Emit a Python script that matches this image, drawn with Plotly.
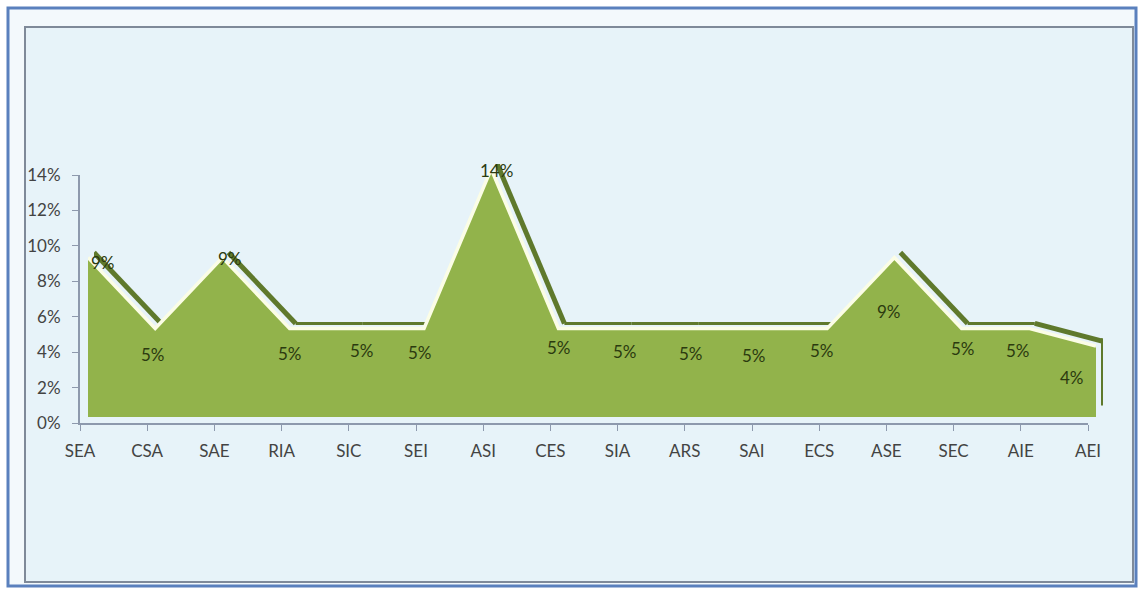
import plotly.graph_objects as go

categories = ["SEA", "CSA", "SAE", "RIA", "SIC", "SEI", "ASI", "CES",
              "SIA", "ARS", "SAI", "ECS", "ASE", "SEC", "AIE", "AEI"]
values = [0.09, 0.05, 0.09, 0.05, 0.05, 0.05, 0.14, 0.05,
          0.05, 0.05, 0.05, 0.05, 0.09, 0.05, 0.05, 0.04]
y_ticks = [0, 0.02, 0.04, 0.06, 0.08, 0.10, 0.12, 0.14]

# label placement offsets (pixels) - style only
label_dx = [23, 6, 16, 8, 13, 4, 13, 9, 7, 6, 2, 3, 3, 9, -3, -16]
label_dy = [1, -20, 5, -19, -16, -18, 4, -13, -17, -19, -21, -16, -48, -14, -16, -25]

W, H = 1142, 600
idx = list(range(len(categories)))


def xd(a, b):
    return [a / W, b / W]


def yd(top, bottom):
    return [(H - bottom) / H, (H - top) / H]


# split the outline into descending and flat segments (top faces visible)
desc_x, desc_y, flat_x, flat_y = [], [], [], []
for i in range(len(values) - 1):
    a, b = values[i], values[i + 1]
    if b < a:
        desc_x += [idx[i], idx[i + 1], None]
        desc_y += [a, b, None]
    elif b == a:
        flat_x += [idx[i], idx[i + 1], None]
        flat_y += [a, b, None]

fig = go.Figure()

shade = "#5f792c"
fig.add_trace(go.Scatter(x=flat_x, y=flat_y, mode="lines",
                         line=dict(color=shade, width=3),
                         xaxis="x2", yaxis="y2", hoverinfo="skip",
                         showlegend=False))
fig.add_trace(go.Scatter(x=desc_x, y=desc_y, mode="lines",
                         line=dict(color=shade, width=5),
                         xaxis="x2", yaxis="y2", hoverinfo="skip",
                         showlegend=False))
# right side face
fig.add_trace(go.Scatter(x=[idx[-1], idx[-1]], y=[values[-1], 0.002],
                         mode="lines", line=dict(color=shade, width=4),
                         xaxis="x4", yaxis="y4", hoverinfo="skip",
                         showlegend=False))

# front face of area
fig.add_trace(go.Scatter(
    x=idx, y=values, mode="lines", fill="tozeroy",
    fillcolor="#92b34b", line=dict(color="#fbfde6", width=3.5),
    xaxis="x3", yaxis="y3", hoverinfo="skip", showlegend=False,
))

# main axes (ticks / labels)
fig.add_trace(go.Scatter(x=idx, y=values, mode="markers",
                         marker=dict(opacity=0), hoverinfo="skip",
                         showlegend=False))

ann = []
for i, v in enumerate(values):
    ann.append(dict(x=i, y=v, xref="x", yref="y", text=f"{round(v*100)}%",
                    showarrow=False, xshift=label_dx[i], yshift=label_dy[i],
                    font=dict(family="Lato", size=17, color="#2b3a0f")))

x_main = xd(80, 1088)
y_main = yd(175, 423)
x_area = xd(88, 1096)
y_area = yd(169, 417)
x_sh = xd(94, 1102)
y_sh = yd(164, 412)
x_side = xd(95, 1103)
y_side = yd(161, 409)

axis_hidden = dict(visible=False, fixedrange=True, automargin=False)
tick_font = dict(family="Lato", size=17, color="#434343")

fig.update_layout(
    template="none",
    width=W, height=H, autosize=False,
    margin=dict(l=0, r=0, t=0, b=0, pad=0, autoexpand=False),
    paper_bgcolor="white",
    plot_bgcolor="rgba(0,0,0,0)",
    showlegend=False,
    dragmode=False,
    xaxis=dict(domain=x_main, range=[0, 15], tickmode="array", fixedrange=True,
               automargin=False, ticklabelstandoff=6,
               tickvals=idx, ticktext=categories, showgrid=False,
               zeroline=False, showline=True, linecolor="#8d99ad",
               linewidth=2, ticks="outside", ticklen=6, tickcolor="#8d99ad",
               tickfont=tick_font),
    yaxis=dict(domain=y_main, range=[0, 0.14], tickmode="array", fixedrange=True,
               automargin=False, ticklabelstandoff=8,
               tickvals=y_ticks,
               ticktext=[f"{round(t*100)}%" for t in y_ticks],
               showgrid=False, zeroline=False, showline=True,
               linecolor="#8d99ad", linewidth=2, ticks="outside", ticklen=6,
               tickcolor="#8d99ad",
               tickfont=tick_font),
    xaxis2=dict(domain=x_sh, range=[0, 15], anchor="y2", **axis_hidden),
    yaxis2=dict(domain=y_sh, range=[0, 0.14], anchor="x2", **axis_hidden),
    xaxis3=dict(domain=x_area, range=[0, 15], anchor="y3", **axis_hidden),
    yaxis3=dict(domain=y_area, range=[0, 0.14], anchor="x3", **axis_hidden),
    xaxis4=dict(domain=x_side, range=[0, 15], anchor="y4", **axis_hidden),
    yaxis4=dict(domain=y_side, range=[0, 0.14], anchor="x4", **axis_hidden),
    annotations=ann,
    shapes=[
        dict(type="rect", xref="paper", yref="paper", layer="below",
             x0=8 / W, x1=1136 / W, y0=1 - 586 / H, y1=1 - 8 / H,
             line=dict(color="#5a80bd", width=3), fillcolor="#f3f9fc"),
        dict(type="rect", xref="paper", yref="paper", layer="below",
             x0=25 / W, x1=1133 / W, y0=1 - 582 / H, y1=1 - 27 / H,
             line=dict(color="#7f8a99", width=2), fillcolor="#e7f3f9"),
    ],
)

fig.write_html("out.html", config={"displayModeBar": False, "staticPlot": True},
               post_script="document.body.style.margin='0';"
                           "document.body.style.overflow='hidden';")
